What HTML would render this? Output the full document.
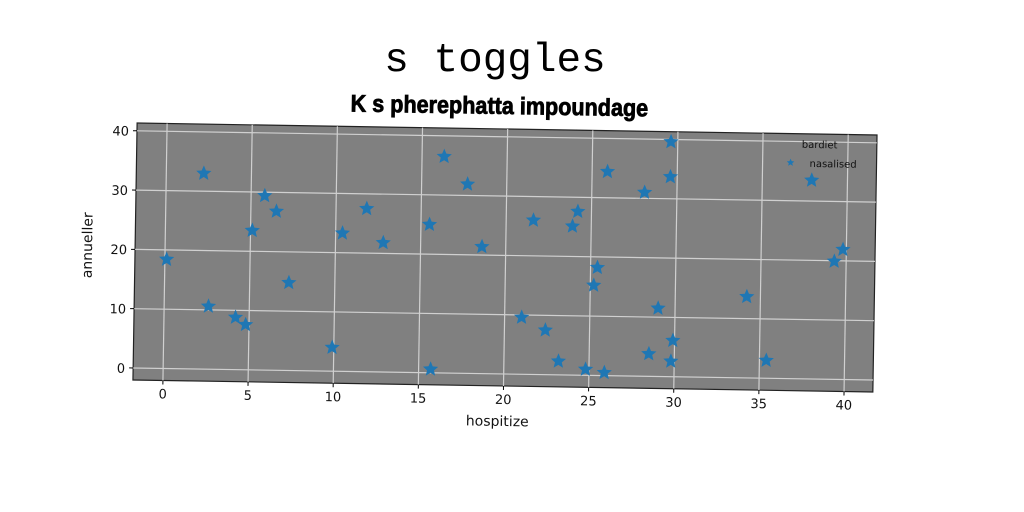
<!DOCTYPE html>
<html><head><meta charset="utf-8"><style>
html,body{margin:0;padding:0;background:#fff;}
svg{display:block;}
</style></head><body>
<svg width="1024" height="512" viewBox="0 0 1024 512" xmlns="http://www.w3.org/2000/svg">
<text x="495" y="71" font-family="Liberation Mono, monospace" font-size="41" text-anchor="middle" fill="#000">s toggles</text>
<g transform="rotate(0.93 505 256)">
<text x="497" y="114" font-family="Liberation Sans, sans-serif" font-weight="bold" font-size="24" text-anchor="middle" fill="#000" stroke="#000" stroke-width="0.8" transform="translate(497 0) scale(0.9 1) translate(-497 0)">K s pherephatta impoundage</text>
<g id="plot"></g>
</g>
</svg>
<script>
const xs=[2.2,0.1,5.8,6.5,5.1,10.4,11.8,12.8,15.5,18.6,16.3,17.7,7.3,2.6,4.2,4.8,9.9,15.7,29.6,25.9,29.6,28.1,37.9,21.6,24.2,23.9,39.8,39.3,25.4,25.2,34.2,29.0,21.0,22.4,29.9,23.2,28.5,29.8,24.8,25.9,35.4];
const ys=[33.0,18.4,29.4,26.8,23.5,23.3,27.5,21.8,25.0,21.4,36.5,31.9,14.8,10.6,8.8,7.6,4.0,0.6,39.6,34.4,33.7,31.0,33.5,26.0,27.6,25.1,21.9,19.9,18.2,15.2,13.7,11.5,9.6,7.5,6.1,2.3,3.8,2.6,1.0,0.5,3.0];
const xTicks=[0,5,10,15,20,25,30,35,40];
const yTicks=[0,10,20,30,40];
const L=135,R=875,T=129,B=386;
const sx=v=>165+v*17.03;
const sy=v=>374-v*5.93;
const NS='http://www.w3.org/2000/svg';
const g=document.getElementById('plot');
function mk(t,a,p){const e=document.createElementNS(NS,t);for(const k in a)e.setAttribute(k,a[k]);(p||g).appendChild(e);return e;}
const bg=mk('rect',{x:L,y:T,width:R-L,height:B-T,fill:'#808080',stroke:'#222','stroke-width':1.2});


xTicks.forEach(v=>{
 const l=mk('line',{x1:sx(v),x2:sx(v),y1:T,y2:B,stroke:'#d0d0d0','stroke-width':1.2});
 
 
 mk('line',{x1:sx(v),x2:sx(v),y1:B,y2:B+4,stroke:'#000'});
 const t=mk('text',{x:sx(v),y:B+18,'font-family':'DejaVu Sans, sans-serif','font-size':13,'text-anchor':'middle',fill:'#111'});
 t.textContent=v;
 
 
});
yTicks.forEach(v=>{
 const l=mk('line',{x1:L,x2:R,y1:sy(v),y2:sy(v),stroke:'#d0d0d0','stroke-width':1.2});
 
 
 mk('line',{x1:L-4,x2:L,y1:sy(v),y2:sy(v),stroke:'#000'});
 const t=mk('text',{x:L-8,y:sy(v)+5,'font-family':'DejaVu Sans, sans-serif','font-size':13,'text-anchor':'end',fill:'#111'});
 t.textContent=v;
 
 
});
function star(cx,cy,r){let p=[];for(let i=0;i<10;i++){const a=-Math.PI/2+i*Math.PI/5;const rr=i%2?r*0.45:r;p.push((cx+rr*Math.cos(a)).toFixed(1)+','+(cy+rr*Math.sin(a)).toFixed(1));}return p.join(' ');}
xs.forEach((v,i)=>{
 const s=mk('polygon',{points:star(sx(v),sy(ys[i]),8),fill:'#1f77b4'});
 
 
});
const xl=mk('text',{x:500,y:426,'font-family':'DejaVu Sans, sans-serif','font-size':14,'text-anchor':'middle',fill:'#111'});
xl.textContent='hospitize';


const yl=mk('text',{x:0,y:0,'font-family':'DejaVu Sans, sans-serif','font-size':14,'text-anchor':'middle',fill:'#111',transform:'translate(92 252) rotate(-90)'});
yl.textContent='annueller';


const lg=mk('g',{});


const lt=mk('text',{x:800,y:143,'font-family':'DejaVu Sans, sans-serif','font-size':10,fill:'#111'},lg);
lt.textContent='bardiet';


const ls=mk('polygon',{points:star(789,158,4),fill:'#1f77b4'},lg);


const le=mk('text',{x:808,y:162,'font-family':'DejaVu Sans, sans-serif','font-size':10,fill:'#111'},lg);
le.textContent='nasalised';


</script>
</body></html>
